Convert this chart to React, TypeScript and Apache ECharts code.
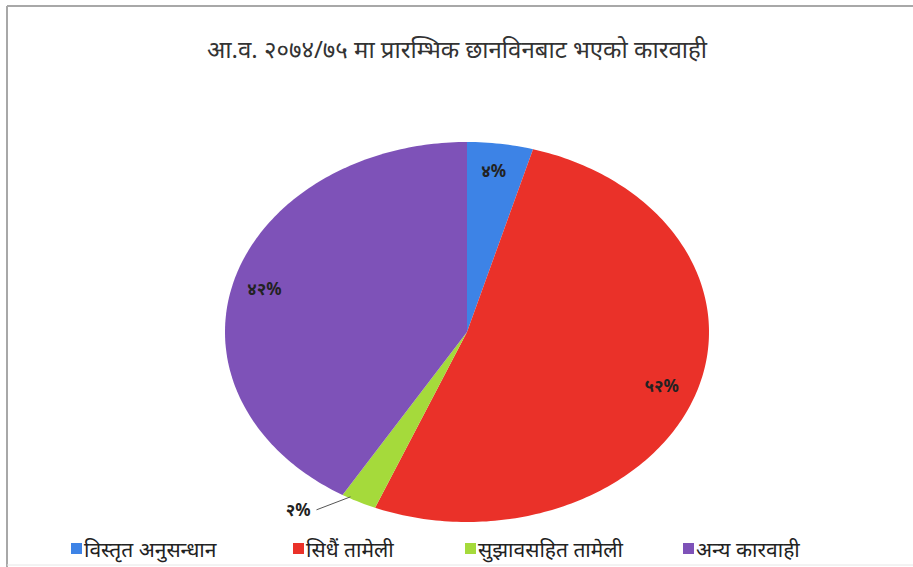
import React, { useEffect, useRef } from "react";
import * as echarts from "echarts";

const categories = ["विस्तृत अनुसन्धान", "सिधैं तामेली", "सुझावसहित तामेली", "अन्य कारवाही"];
const values = [4.4, 51.8, 2.4, 41.4];
const labels = ["४%", "५२%", "२%", "४२%"];
const colors = ["#3d83e6", "#ea3129", "#a5da3b", "#7e52b8"];
const titleText = "आ.व. २०७४/७५ मा प्रारम्भिक छानविनबाट भएको कारवाही";

const FONT = "'Noto Sans', 'Noto Sans Devanagari', sans-serif";

export default function App() {
  const ref = useRef<HTMLDivElement>(null);
  useEffect(() => {
    document.body.style.margin = "0";
    const chart = echarts.init(ref.current!, null, { renderer: "svg" });
    const total = values.reduce((a, b) => a + b, 0);
    let acc = 0;
    const ranges = values.map((v) => {
      const s = acc / total;
      acc += v;
      return [s, acc / total];
    });
    const cx = 467, cy = 332, rx = 242, ry = 190;
    const pt = (t: number, f: number) => [cx + rx * f * Math.sin(2 * Math.PI * t), cy - ry * f * Math.cos(2 * Math.PI * t)];

    const series = categories.map((name, idx) => ({
      type: "custom",
      name,
      coordinateSystem: "none",
      data: [[ranges[idx][0], ranges[idx][1], idx]],
      itemStyle: { color: colors[idx] },
      renderItem: (params: any, api: any) => {
        const s = api.value(0), e = api.value(1), i = api.value(2);
        const n = Math.max(4, Math.ceil((e - s) * 360));
        const points: number[][] = [[cx, cy]];
        for (let k = 0; k <= n; k++) points.push(pt(s + ((e - s) * k) / n, 1));
        const mid = (s + e) / 2;
        const children: any[] = [
          { type: "polygon", shape: { points }, style: { fill: api.visual("color"), stroke: null } },
        ];
        if (e - s > 0.03) {
          const p = pt(mid, 0.86);
          children.push({
            type: "text",
            style: { text: labels[i], x: p[0] - 2, y: p[1], align: "center", verticalAlign: "middle", fill: "#222", font: `bold 17px ${FONT}` },
            z2: 10,
          });
        } else {
          const p0 = pt(mid, 1.0);
          const p1 = [p0[0] - 42, p0[1] + 8];
          children.push({ type: "line", shape: { x1: p0[0] - 8, y1: p0[1] - 5, x2: p1[0], y2: p1[1] }, style: { stroke: "#555", lineWidth: 1 } });
          children.push({
            type: "text",
            style: { text: labels[i], x: p1[0] - 6, y: p1[1], align: "right", verticalAlign: "middle", fill: "#222", font: `bold 17px ${FONT}` },
          });
        }
        return { type: "group", children };
      },
    }));

    const legendLefts = [66, 288, 460, 678];
    const legends = categories.map((c, i) => ({
      data: [c],
      left: legendLefts[i],
      top: 533,
      icon: "rect",
      itemWidth: 11,
      itemHeight: 11,
      itemGap: 0,
      textStyle: { fontFamily: FONT, fontSize: 21, color: "#222", padding: [0, 0, 0, -3] },
    }));

    chart.setOption({
      animation: false,
      backgroundColor: "#ffffff",
      title: {
        text: titleText,
        left: 452,
        textAlign: "center",
        top: 31,
        textStyle: { fontFamily: FONT, fontSize: 24, fontWeight: "normal", color: "#333" },
      },
      legend: legends,
      graphic: [
        { type: "line", shape: { x1: 7, y1: 6, x2: 913, y2: 6 }, style: { stroke: "#a8a8a8", lineWidth: 2 } },
        { type: "line", shape: { x1: 7, y1: 6, x2: 7, y2: 567 }, style: { stroke: "#a8a8a8", lineWidth: 2 } },
        { type: "line", shape: { x1: 7, y1: 565, x2: 913, y2: 565 }, style: { stroke: "#e6e6e6", lineWidth: 1 } },
      ],
      series,
    });
    return () => chart.dispose();
  }, []);
  return <div ref={ref} style={{ width: 913, height: 567 }} />;
}
